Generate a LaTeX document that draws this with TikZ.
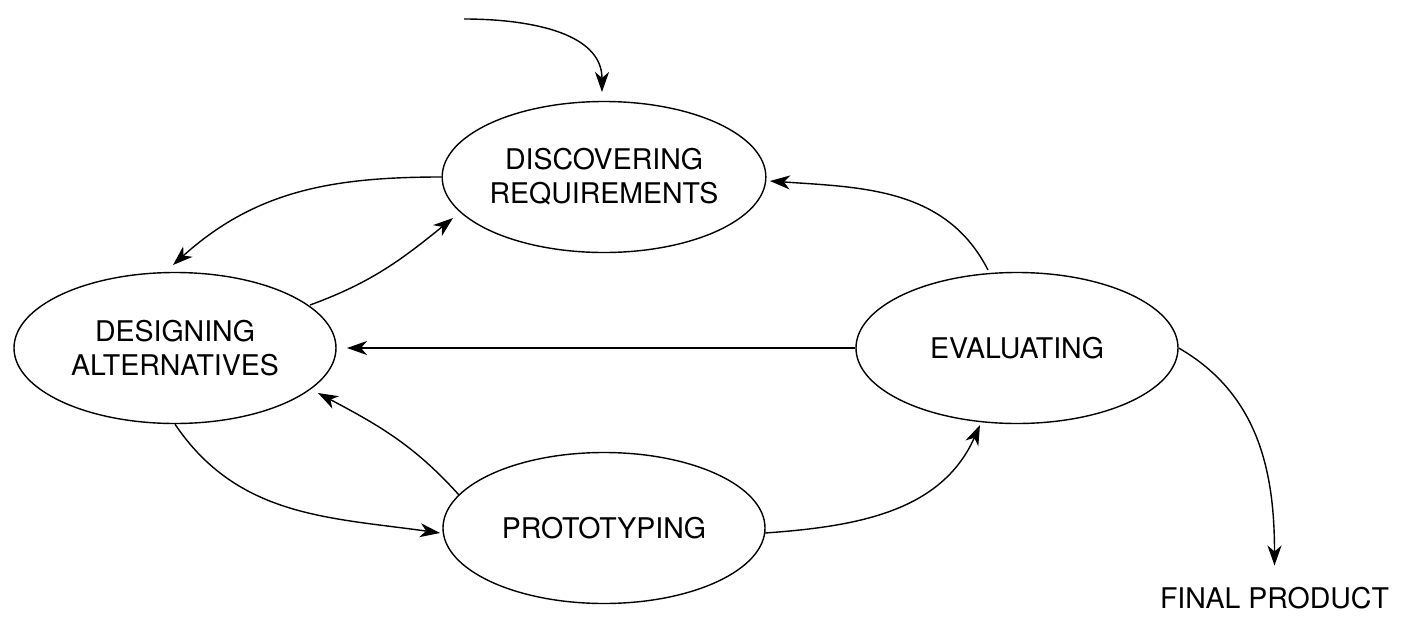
\documentclass[tikz,border=0pt]{standalone}
\usepackage{fontspec}
\setmainfont{TeX Gyre Heros}
\usetikzlibrary{shapes.geometric,arrows.meta}
\begin{document}
\begin{tikzpicture}[x=1pt,y=-1pt,
  phase/.style={ellipse,draw,line width=1.4pt,minimum width=322pt,minimum height=151pt,
    inner sep=0pt,align=center,font=\fontsize{28.5}{34}\selectfont},
  flow/.style={line width=1.4pt,-{Stealth[length=20pt,width=14pt,inset=6pt]}},
  label/.style={font=\fontsize{28.5}{34}\selectfont,inner sep=0pt}]
\useasboundingbox (0,0) rectangle (1401,632);

% the four activities
\node[phase] (disc) at (604,177) {DISCOVERING\\REQUIREMENTS};
\node[phase] (dsg)  at (175,348) {DESIGNING\\ALTERNATIVES};
\node[phase] (ev)   at (1017,348) {EVALUATING};
\node[phase] (pr)   at (604,528) {PROTOTYPING};

% entry point and final output
\coordinate (start) at (464,19);
\node[label,anchor=base] (fp) at (1274.5,608) {FINAL PRODUCT};

% connectors
\draw[flow] (start) to[out=0,in=90] ([shift={(-2,-85)}]disc.center);
\draw[flow] (disc.west) to[out=180,in=42] ([shift={(-2,-83)}]dsg.center);
\draw[flow] ([shift={(135,-43)}]dsg.center) to[out=20,in=219] ([shift={(-151,41)}]disc.center);
\draw[flow] ([shift={(-29,-78)}]ev.center) to[out=117,in=-4] ([shift={(166,4)}]disc.center);
\draw[flow] (ev.west) -- ([shift={(172,0)}]dsg.center);
\draw[flow] ([shift={(-145,-33)}]pr.center) to[out=132,in=-28] ([shift={(143,45)}]dsg.center);
\draw[flow] (dsg.south) to[out=-56,in=172] ([shift={(-164,5)}]pr.center);
\draw[flow] ([shift={(161,5)}]pr.center) to[out=4,in=246] ([shift={(-37,77)}]ev.center);
\draw[flow] (ev.east) to[out=-30,in=90] ([yshift=21pt]fp.north);
\end{tikzpicture}
\end{document}
